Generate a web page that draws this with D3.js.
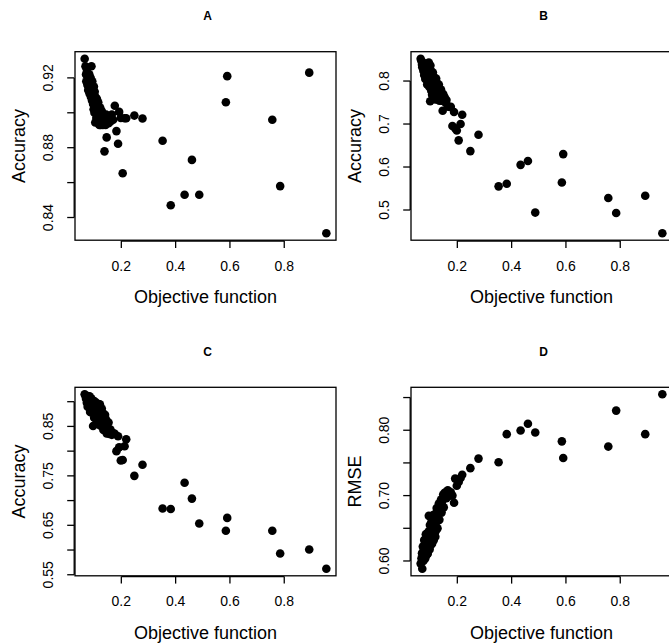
<!DOCTYPE html>
<html><head><meta charset="utf-8">
<script src="https://cdn.jsdelivr.net/npm/d3@7"></script>
<style>body{margin:0;background:#fff} text{font-family:"Liberation Sans",Arial,Helvetica,sans-serif;fill:#000}</style>
</head><body>
<svg id="c" width="669" height="643"></svg>
<script>
// Objective function values (shared by all panels)
const objective = [
0.065,0.068,0.070,0.071,0.073,0.075,0.076,0.078,0.079,0.080,
0.082,0.083,0.084,0.085,0.087,0.088,0.089,0.090,0.091,0.092,
0.093,0.094,0.095,0.096,0.097,0.098,0.099,0.100,0.101,0.102,
0.103,0.104,0.105,0.106,0.107,0.108,0.109,0.110,0.111,0.112,
0.113,0.114,0.115,0.116,0.117,0.118,0.119,0.120,0.121,0.122,
0.123,0.124,0.125,0.127,0.128,0.130,0.132,0.134,0.136,0.138,
0.140,0.142,0.144,0.146,0.148,0.150,0.153,0.156,0.160,0.165,
0.170,0.176,0.182,0.188,0.192,0.198,0.205,0.212,0.218,0.248,
0.278,0.352,0.382,0.433,0.460,0.487,0.585,0.590,0.756,0.785,
0.892,0.955];
// Panel A: Accuracy
const accuracyA = [
0.931,0.9267,0.922,0.918,0.925,0.916,0.921,0.913,0.919,0.915,
0.922,0.911,0.917,0.914,0.920,0.909,0.916,0.9267,0.912,0.907,
0.918,0.910,0.914,0.905,0.911,0.902,0.915,0.907,0.900,0.912,
0.904,0.8944,0.909,0.901,0.906,0.897,0.903,0.908,0.899,0.904,
0.895,0.901,0.906,0.896,0.902,0.898,0.893,0.900,0.895,0.903,
0.897,0.893,0.899,0.894,0.901,0.896,0.893,0.898,0.895,0.8779,
0.897,0.893,0.899,0.8859,0.896,0.8977,0.894,0.898,0.895,0.899,
0.896,0.904,0.8895,0.8823,0.9005,0.897,0.8654,0.8969,0.8969,0.8984,
0.8967,0.884,0.847,0.853,0.873,0.853,0.906,0.921,0.896,0.858,
0.923,0.831];
// Panel B: Accuracy
const accuracyB = [
0.852,0.846,0.838,0.832,0.842,0.824,0.8365,0.814,0.841,0.8235,
0.805,0.832,0.8145,0.839,0.805,0.8215,0.792,0.837,0.810,0.7965,
0.825,0.802,0.843,0.8095,0.786,0.829,0.802,0.753,0.836,0.788,
0.815,0.7775,0.822,0.795,0.768,0.8105,0.781,0.820,0.795,0.768,
0.809,0.780,0.797,0.758,0.807,0.782,0.767,0.796,0.773,0.806,
0.757,0.782,0.795,0.763,0.786,0.770,0.792,0.754,0.778,0.762,
0.780,0.754,0.768,0.731,0.770,0.754,0.763,0.750,0.756,0.741,
0.740,0.740,0.6953,0.728,0.690,0.685,0.662,0.700,0.7217,0.637,
0.675,0.555,0.561,0.605,0.614,0.494,0.564,0.630,0.528,0.493,
0.533,0.446];
// Panel C: Accuracy
const accuracyC = [
0.915,0.912,0.906,0.910,0.898,0.908,0.890,0.911,0.896,0.905,
0.888,0.911,0.896,0.879,0.901,0.886,0.907,0.8925,0.878,0.903,
0.886,0.893,0.878,0.851,0.902,0.879,0.890,0.8675,0.9006,0.882,
0.871,0.894,0.877,0.898,0.865,0.884,0.897,0.8685,0.8876,0.857,
0.896,0.873,0.888,0.861,0.894,0.873,0.886,0.8615,0.8946,0.8517,
0.8788,0.862,0.885,0.853,0.886,0.8625,0.8767,0.843,0.869,0.847,
0.8735,0.850,0.864,0.836,0.854,0.8385,0.858,0.835,0.8435,0.833,
0.8365,0.835,0.800,0.830,0.808,0.781,0.782,0.810,0.824,0.750,
0.7725,0.684,0.683,0.736,0.704,0.6536,0.639,0.665,0.639,0.593,
0.601,0.562];
// Panel D: RMSE
const rmseD = [
0.596,0.604,0.612,0.588,0.622,0.600,0.615,0.632,0.607,0.626,
0.604,0.622,0.641,0.610,0.632,0.610,0.625,0.642,0.611,0.634,
0.6216,0.645,0.669,0.621,0.636,0.6176,0.655,0.630,0.647,0.624,
0.642,0.659,0.630,0.649,0.6264,0.6576,0.641,0.670,0.637,0.6544,
0.6316,0.663,0.646,0.671,0.6424,0.6596,0.637,0.672,0.653,0.668,
0.6476,0.681,0.662,0.650,0.6776,0.662,0.688,0.663,0.683,0.6756,
0.694,0.674,0.691,0.683,0.7016,0.682,0.7036,0.705,0.696,0.708,
0.700,0.705,0.700,0.689,0.726,0.715,0.721,0.727,0.732,0.742,
0.7566,0.751,0.794,0.7995,0.810,0.7965,0.783,0.7576,0.775,0.830,
0.794,0.855];

const xTicks = [0.2,0.4,0.6,0.8];
const xTickLabels = ["0.2","0.4","0.6","0.8"];
const yTicksA = [0.84,0.86,0.88,0.90,0.92];
const yLabelsA = ["0.84","","0.88","","0.92"];
const yTicksB = [0.5,0.6,0.7,0.8];
const yLabelsB = ["0.5","0.6","0.7","0.8"];
const yTicksC = [0.55,0.60,0.65,0.70,0.75,0.80,0.85,0.90];
const yLabelsC = ["0.55","","0.65","","0.75","","0.85",""];
const yTicksD = [0.60,0.65,0.70,0.75,0.80,0.85];
const yLabelsD = ["0.60","","0.70","","0.80",""];

const titles = ["A","B","C","D"];
const yTitles = ["Accuracy","Accuracy","Accuracy","RMSE"];
const xTitle = "Objective function";

const panels = [
  {title:titles[0], ylab:yTitles[0], vals:accuracyA, yt:yTicksA, yl:yLabelsA, col:0,row:0},
  {title:titles[1], ylab:yTitles[1], vals:accuracyB, yt:yTicksB, yl:yLabelsB, col:1,row:0},
  {title:titles[2], ylab:yTitles[2], vals:accuracyC, yt:yTicksC, yl:yLabelsC, col:0,row:1},
  {title:titles[3], ylab:yTitles[3], vals:rmseD, yt:yTicksD, yl:yLabelsD, col:1,row:1}
];

const svg = d3.select("#c");
const boxW = 261, boxH = 188.5;
function padExt(arr){ const e=d3.extent(arr); const p=(e[1]-e[0])*0.04; return [e[0]-p,e[1]+p]; }

panels.forEach(p=>{
  const L = 75 + p.col*336, T = 51.7 + p.row*335.6;
  const g = svg.append("g").attr("transform",`translate(${L},${T})`);
  const x = d3.scaleLinear().domain(padExt(objective)).range([0,boxW]);
  const y = d3.scaleLinear().domain(padExt(p.vals)).range([boxH,0]);
  g.selectAll("circle").data(objective.map((o,i)=>[o,p.vals[i]])).enter()
    .append("circle").attr("cx",d=>x(d[0])).attr("cy",d=>y(d[1])).attr("r",4.3).attr("fill","#000");
  g.append("rect").attr("x",0).attr("y",0).attr("width",boxW).attr("height",boxH)
    .attr("fill","none").attr("stroke","#000").attr("stroke-width",1.3);
  const xa = g.append("g").attr("transform",`translate(0,${boxH+0.8})`);
  xa.append("line").attr("x1",x(xTicks[0])).attr("x2",x(xTicks[xTicks.length-1])).attr("stroke","#000").attr("stroke-width",1.3);
  xTicks.forEach((t,i)=>{
    xa.append("line").attr("x1",x(t)).attr("x2",x(t)).attr("y1",0).attr("y2",7).attr("stroke","#000").attr("stroke-width",1.3);
    xa.append("text").attr("x",x(t)).attr("y",29.5).attr("text-anchor","middle").attr("font-size",14).text(xTickLabels[i]);
  });
  g.append("text").attr("x",boxW/2).attr("y",boxH+63).attr("text-anchor","middle").attr("font-size",18).text(xTitle);
  const ya = g.append("g").attr("transform",`translate(-0.8,0)`);
  ya.append("line").attr("y1",y(p.yt[0])).attr("y2",y(p.yt[p.yt.length-1])).attr("stroke","#000").attr("stroke-width",1.3);
  p.yt.forEach((t,i)=>{
    ya.append("line").attr("x1",0).attr("x2",-7).attr("y1",y(t)).attr("y2",y(t)).attr("stroke","#000").attr("stroke-width",1.3);
    if(p.yl[i]) ya.append("text").attr("transform",`translate(-21,${y(t)}) rotate(-90)`).attr("text-anchor","middle").attr("font-size",14).text(p.yl[i]);
  });
  g.append("text").attr("transform",`translate(-50.5,${boxH/2}) rotate(-90)`).attr("text-anchor","middle").attr("font-size",18).text(p.ylab);
  g.append("text").attr("x",boxW/2+2).attr("y",-31.5).attr("text-anchor","middle").attr("font-size",12).attr("font-weight","bold").text(p.title);
});
</script>
</body></html>
